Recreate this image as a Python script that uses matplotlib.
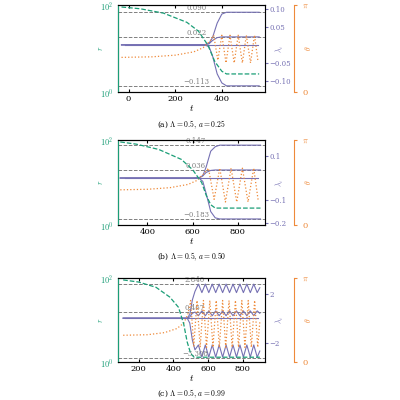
import matplotlib
matplotlib.use("Agg")
import matplotlib.pyplot as plt

plt.rcParams['font.family'] = ['DejaVu Serif']
plt.rcParams['mathtext.fontset'] = 'cm'
plt.rcParams['font.size'] = 5.5

G = '#1b9e77'; B = '#7570b3'; O = '#ee8a3a'

# ---- Panel (a) ----
a_t_r = [-30, 50, 150, 250, 300, 340, 370, 400, 420, 560]
a_r = [90, 82, 65, 40, 25, 12, 5, 3, 2.6, 2.6]
a_t_l = [-30, 300, 330, 345, 360, 380, 400, 420, 560]
a_l_up = [0, 0, 0.001, 0.004, 0.02, 0.06, 0.085, 0.090, 0.090]
a_l_dn = [0, 0, -0.001, -0.005, -0.03, -0.08, -0.105, -0.113, -0.113]
a_l_mid = [0, 0, 0.001, 0.003, 0.012, 0.02, 0.022, 0.022, 0.022]
a_t_th = [-30, 100, 200, 280, 320, 350, 365, 383, 400, 418, 435, 453, 470, 488, 505, 523, 540, 555]
a_th = [1.25, 1.27, 1.33, 1.45, 1.6, 1.85, 2.05, 1.15, 2.05, 1.05, 2.05, 1.05, 2.05, 1.05, 2.05, 1.05, 2.05, 1.1]
a_lines = [0.090, 0.022, -0.113]

# ---- Panel (b) ----
b_t_r = [280, 350, 450, 550, 600, 640, 660, 680, 700, 900]
b_r = [90, 80, 60, 35, 20, 10, 5, 3, 2.5, 2.5]
b_t_l = [280, 600, 630, 645, 660, 680, 700, 720, 900]
b_l_up = [0, 0, 0.002, 0.01, 0.05, 0.12, 0.14, 0.147, 0.147]
b_l_dn = [0, 0, -0.002, -0.015, -0.07, -0.15, -0.178, -0.183, -0.183]
b_l_mid = [0, 0, 0.002, 0.01, 0.025, 0.034, 0.036, 0.036, 0.036]
b_t_th = [280, 400, 500, 580, 620, 650, 670, 695, 720, 745, 770, 795, 820, 845, 870, 890]
b_th = [1.3, 1.32, 1.38, 1.5, 1.65, 1.9, 2.1, 0.95, 2.1, 0.85, 2.1, 0.85, 2.1, 0.85, 2.1, 0.9]
b_lines = [0.147, 0.036, -0.183]

# ---- Panel (c) ----
c_t_r = [110, 200, 300, 380, 430, 460, 480, 500, 520, 900]
c_r = [90, 80, 60, 35, 20, 8, 3, 1.6, 1.3, 1.3]
c_t_l = [110, 480, 495, 510, 525, 545, 565, 585, 605, 625, 645, 665, 685, 705, 725, 745, 765, 785, 805, 825, 845, 865, 885, 900]
c_l_up = [0, 0, 0.3, 1.5, 2.2, 2.8, 2.1, 2.8, 2.1, 2.8, 2.1, 2.8, 2.1, 2.8, 2.1, 2.8, 2.1, 2.8, 2.1, 2.8, 2.1, 2.8, 2.1, 2.5]
c_l_dn = [0, 0, -0.4, -1.8, -2.6, -2.2, -3.2, -2.2, -3.2, -2.2, -3.2, -2.2, -3.2, -2.2, -3.2, -2.2, -3.2, -2.2, -3.2, -2.2, -3.2, -2.2, -3.2, -2.7]
c_l_mid = [0, 0, 0.1, 0.4, 0.5, 0.2, 0.6, 0.2, 0.6, 0.2, 0.6, 0.2, 0.6, 0.2, 0.6, 0.2, 0.6, 0.2, 0.6, 0.2, 0.6, 0.2, 0.6, 0.4]
c_t_th = [110, 250, 350, 420, 460, 485, 500, 518, 537, 555, 574, 592, 611, 629, 648, 666, 685, 703, 722, 740, 759, 777, 796, 814, 833, 851, 870, 888, 900]
c_th = [1.0, 1.02, 1.1, 1.25, 1.45, 1.8, 2.3, 0.6, 2.3, 0.55, 2.3, 0.55, 2.3, 0.55, 2.3, 0.55, 2.3, 0.55, 2.3, 0.55, 2.3, 0.55, 2.3, 0.55, 2.3, 0.55, 2.3, 0.55, 1.5]
c_lines = [2.840, 0.467, -3.308]

panels = [
    dict(tr=a_t_r, r=a_r, tl=a_t_l, up=a_l_up, dn=a_l_dn, mid=a_l_mid, tth=a_t_th, th=a_th,
         lines=a_lines, xlim=(-45, 585), xt=[0, 200, 400], ylim=(-0.13, 0.11),
         yt=[-0.10, -0.05, 0.05, 0.10], ytl=['−0.10', '−0.05', '0.05', '0.10'],
         cap=r'(a) $\Lambda=0.5,\,a=0.25$', rect=[0.295, 0.77, 0.3675, 0.2175]),
    dict(tr=b_t_r, r=b_r, tl=b_t_l, up=b_l_up, dn=b_l_dn, mid=b_l_mid, tth=b_t_th, th=b_th,
         lines=b_lines, xlim=(270, 920), xt=[400, 600, 800], ylim=(-0.21, 0.17),
         yt=[-0.2, -0.1, 0.1], ytl=['−0.2', '−0.1', '0.1'],
         cap=r'(b) $\Lambda=0.5,\,a=0.50$', rect=[0.295, 0.4375, 0.3675, 0.2125]),
    dict(tr=c_t_r, r=c_r, tl=c_t_l, up=c_l_up, dn=c_l_dn, mid=c_l_mid, tth=c_t_th, th=c_th,
         lines=c_lines, xlim=(80, 930), xt=[200, 400, 600, 800], ylim=(-3.6, 3.3),
         yt=[-2, 2], ytl=['−2', '2'],
         cap=r'(c) $\Lambda=0.5,\,a=0.99$', rect=[0.295, 0.095, 0.3675, 0.21]),
]

fig = plt.figure(figsize=(4, 4), dpi=100)
for p in panels:
    axr = fig.add_axes(p['rect'])
    axr.set_yscale('log')
    axr.set_ylim(1, 100)
    axr.set_xlim(p['xlim'])
    axr.set_yticks([1, 100])
    axr.set_yticklabels([r'$10^0$', r'$10^2$'])
    axr.yaxis.set_minor_locator(matplotlib.ticker.NullLocator())
    axr.tick_params(axis='y', colors=G, labelsize=6, length=0)
    axr.set_ylabel(r'$r$', color=G, labelpad=-4)
    axr.spines['left'].set_color(G)
    axr.set_xticks(p['xt'])
    axr.tick_params(axis='x', labelsize=6, length=2, direction='in', top=True, pad=2)
    axr.set_xlabel(r'$t$', labelpad=0, fontsize=7)
    axr.text(0.5, -0.3, p['cap'], transform=axr.transAxes, ha='center', va='top', fontsize=5.5)

    axl = axr.twinx()
    for v in p['lines']:
        axl.axhline(v, color='gray', ls='--', lw=0.7)
        axl.text((p['xlim'][0] + p['xlim'][1]) / 2 + 20, v, '{:.3f}'.format(v).replace('-', '−'),
                 color='gray', fontsize=5, ha='center', va='bottom')
    axl.plot(p['tl'], p['up'], color=B, lw=0.8)
    axl.plot(p['tl'], p['dn'], color=B, lw=0.8)
    axl.plot(p['tl'], p['mid'], color=B, lw=0.8)
    axl.axhline(0, color=B, lw=0.8, xmin=0.05, xmax=0.95)
    axl.set_ylim(p['ylim'])
    axl.set_yticks(p['yt'])
    axl.set_yticklabels(p['ytl'])
    axl.tick_params(axis='y', colors=B, labelsize=5, length=2, pad=1)
    axl.set_ylabel(r'$\lambda_i$', color=B)
    axl.yaxis.set_label_coords(1.06, 0.5)
    axl.spines['right'].set_color(B)

    axt = axr.twinx()
    axt.spines['right'].set_position(('axes', 1.2))
    axt.spines['right'].set_color(O)
    for s in ['top', 'bottom', 'left']:
        axt.spines[s].set_visible(False)
    axt.plot(p['tth'], p['th'], color=O, ls=':', lw=0.9)
    axt.set_ylim(0, 3.14159)
    axt.set_yticks([0, 3.14159])
    axt.set_yticklabels(['0', r'$\pi$'])
    axt.tick_params(axis='y', colors=O, labelsize=6, length=2)
    axt.set_ylabel(r'$\theta$', color=O, labelpad=-4)

    axr.plot(p['tr'], p['r'], color=G, ls='--', lw=0.9)
    axr.set_zorder(axt.get_zorder() + 1); axr.patch.set_visible(False)

fig.savefig('out.png', dpi=100)
